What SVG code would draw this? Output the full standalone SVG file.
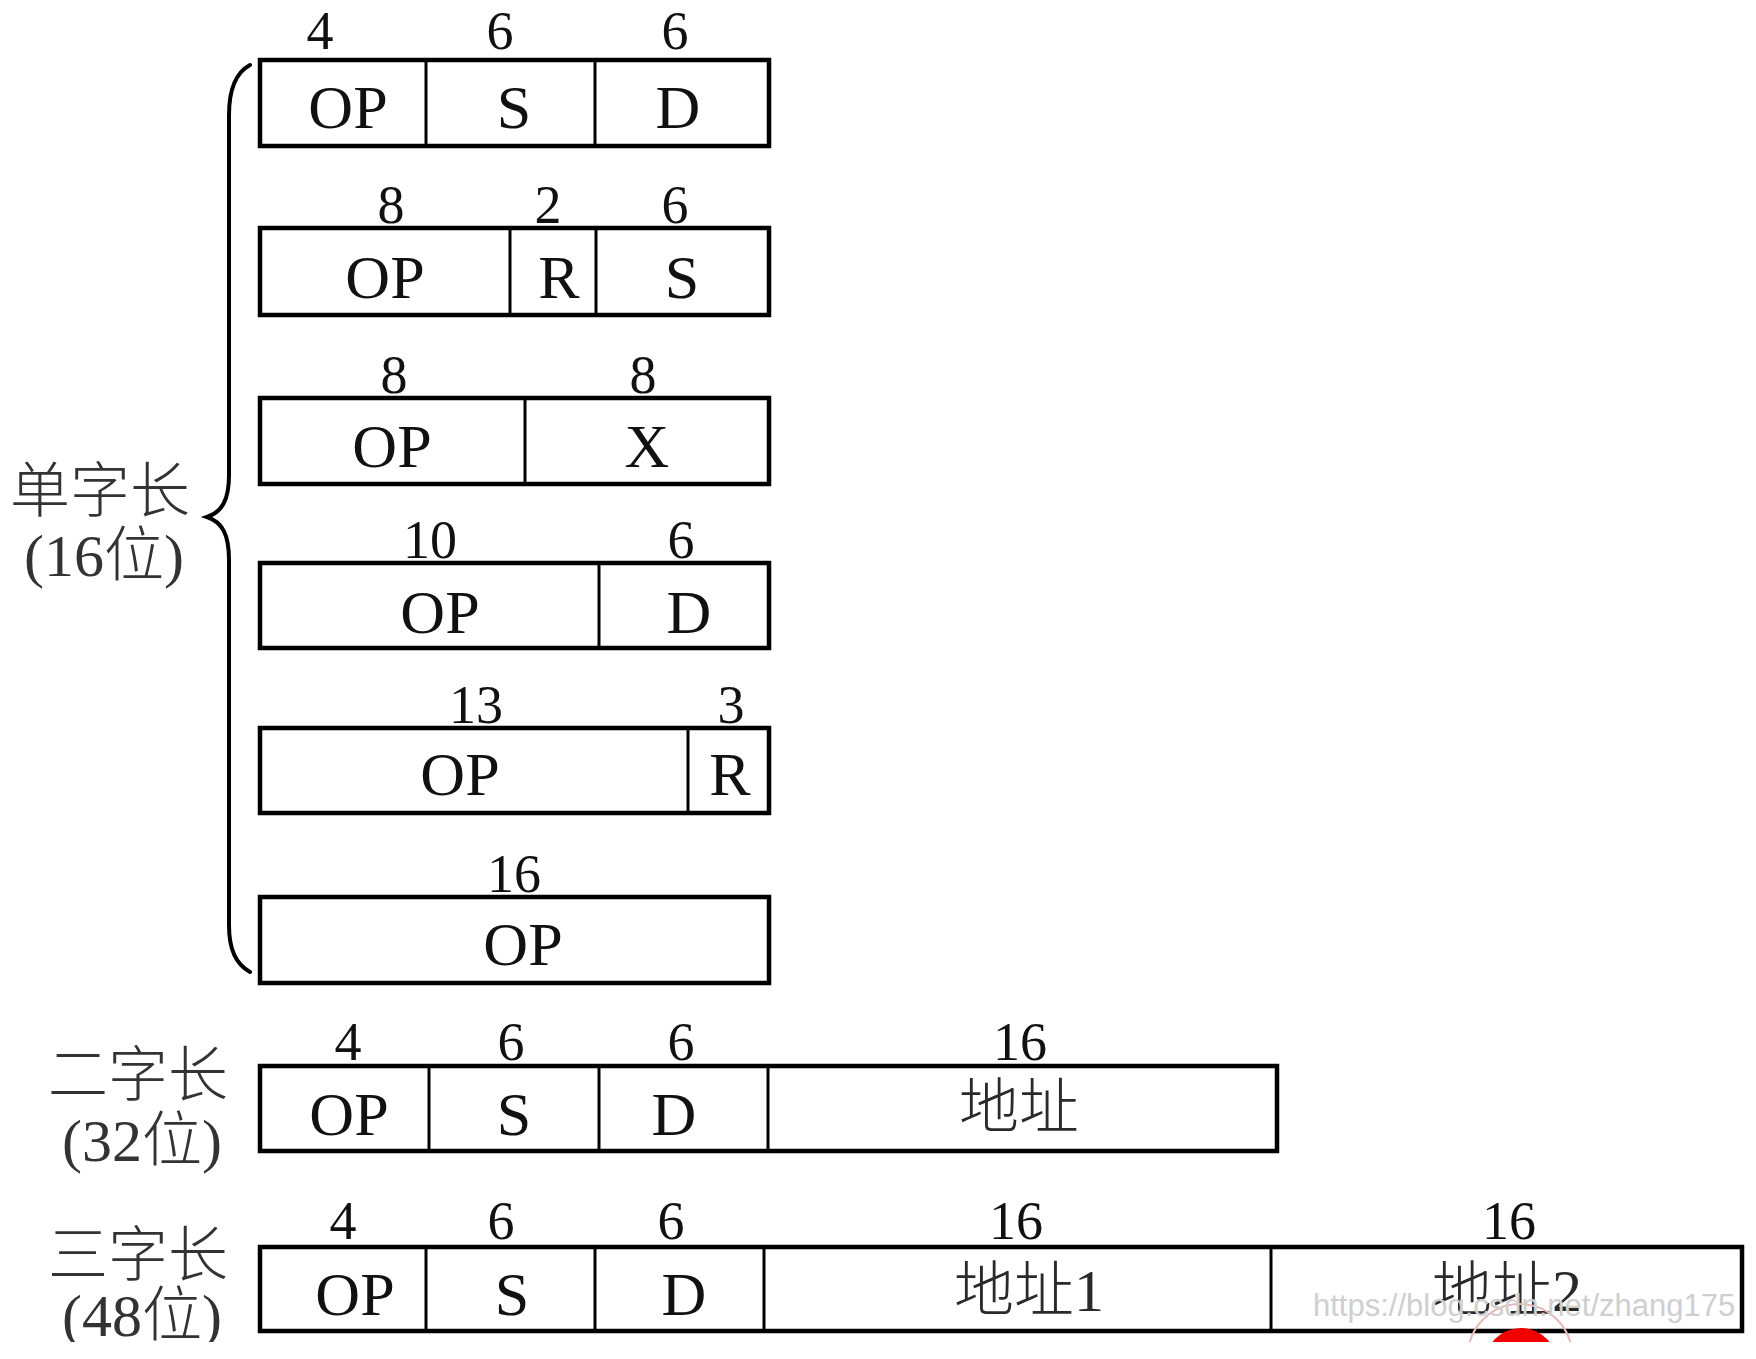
<svg xmlns="http://www.w3.org/2000/svg" width="1756" height="1359" viewBox="0 0 1756 1359">
<defs>
<clipPath id="cut"><rect x="0" y="0" width="1756" height="1342"/></clipPath>
</defs>
<style>
.box{fill:#fff;stroke:#000;stroke-width:4.5}
.dv{stroke:#000;stroke-width:3;fill:none}
.num{font-family:"Liberation Serif","Times New Roman",serif;font-size:54px;text-anchor:middle;fill:#111}
.lbl{font-family:"Liberation Serif","Noto Sans CJK SC",serif;font-size:62px;text-anchor:middle;fill:#111}
.cjk{font-family:"Liberation Serif","Noto Sans CJK SC",sans-serif;font-size:60px;font-weight:300;text-anchor:middle;fill:#2a2a2a}
.side{font-family:"Liberation Serif","Noto Sans CJK SC",sans-serif;font-size:60px;font-weight:300;text-anchor:middle;fill:#333}
.brace{fill:none;stroke:#000;stroke-width:4;stroke-linecap:round}
.wm{font-family:"Liberation Sans",Arial,sans-serif;font-size:31px;fill:#cfcfcf}
</style>
<rect x="0" y="0" width="1756" height="1359" fill="#fff"/>
<g clip-path="url(#cut)">

<g id="connectors">
<path class="brace" d="M250,65 C237,72 229,88 229,115 L229,475 C229,500 222,512 207,517 C222,522 229,534 229,560 L229,925 C229,950 236,964 250,972"/>
</g>

<g id="label-single">
<text class="side" x="100" y="512">单字长</text>
<text class="side" x="104" y="576">(16位)</text>
</g>
<g id="label-double">
<text class="side" x="138" y="1096">二字长</text>
<text class="side" x="142" y="1161">(32位)</text>
</g>
<g id="label-triple">
<text class="side" x="138" y="1276">三字长</text>
<text class="side" x="142" y="1336">(48位)</text>
</g>

<g id="row1">
<rect class="box" x="260" y="60" width="509" height="86"/>
<line class="dv" x1="426" y1="60" x2="426" y2="146"/>
<line class="dv" x1="595" y1="60" x2="595" y2="146"/>
<text class="num" x="320" y="49">4</text>
<text class="num" x="500" y="49">6</text>
<text class="num" x="675" y="49">6</text>
<text class="lbl" x="348" y="128">OP</text>
<text class="lbl" x="514" y="128">S</text>
<text class="lbl" x="678" y="128">D</text>
</g>

<g id="row2">
<rect class="box" x="260" y="228" width="509" height="87"/>
<line class="dv" x1="510" y1="228" x2="510" y2="315"/>
<line class="dv" x1="596" y1="228" x2="596" y2="315"/>
<text class="num" x="391" y="223">8</text>
<text class="num" x="548" y="223">2</text>
<text class="num" x="675" y="223">6</text>
<text class="lbl" x="385" y="298">OP</text>
<text class="lbl" x="559" y="298">R</text>
<text class="lbl" x="682" y="298">S</text>
</g>

<g id="row3">
<rect class="box" x="260" y="398" width="509" height="86"/>
<line class="dv" x1="525" y1="398" x2="525" y2="484"/>
<text class="num" x="394" y="393">8</text>
<text class="num" x="643" y="393">8</text>
<text class="lbl" x="392" y="467">OP</text>
<text class="lbl" x="647" y="467">X</text>
</g>

<g id="row4">
<rect class="box" x="260" y="563" width="509" height="85"/>
<line class="dv" x1="599" y1="563" x2="599" y2="648"/>
<text class="num" x="430" y="558">10</text>
<text class="num" x="681" y="558">6</text>
<text class="lbl" x="440" y="633">OP</text>
<text class="lbl" x="689" y="633">D</text>
</g>

<g id="row5">
<rect class="box" x="260" y="728" width="509" height="85"/>
<line class="dv" x1="688" y1="728" x2="688" y2="813"/>
<text class="num" x="476" y="723">13</text>
<text class="num" x="731" y="723">3</text>
<text class="lbl" x="460" y="795">OP</text>
<text class="lbl" x="730" y="795">R</text>
</g>

<g id="row6">
<rect class="box" x="260" y="897" width="509" height="86"/>
<text class="num" x="514" y="892">16</text>
<text class="lbl" x="523" y="965">OP</text>
</g>

<g id="row7">
<rect class="box" x="260" y="1066" width="1017" height="85"/>
<line class="dv" x1="429" y1="1066" x2="429" y2="1151"/>
<line class="dv" x1="599" y1="1066" x2="599" y2="1151"/>
<line class="dv" x1="768" y1="1066" x2="768" y2="1151"/>
<text class="num" x="348" y="1060">4</text>
<text class="num" x="511" y="1060">6</text>
<text class="num" x="681" y="1060">6</text>
<text class="num" x="1020" y="1060">16</text>
<text class="lbl" x="349" y="1135">OP</text>
<text class="lbl" x="514" y="1135">S</text>
<text class="lbl" x="674" y="1135">D</text>
<text class="cjk" x="1019" y="1128">地址</text>
</g>

<g id="row8">
<rect class="box" x="260" y="1247" width="1482" height="84"/>
<line class="dv" x1="426" y1="1247" x2="426" y2="1331"/>
<line class="dv" x1="595" y1="1247" x2="595" y2="1331"/>
<line class="dv" x1="764" y1="1247" x2="764" y2="1331"/>
<line class="dv" x1="1271" y1="1247" x2="1271" y2="1331"/>
<text class="num" x="343" y="1239">4</text>
<text class="num" x="501" y="1239">6</text>
<text class="num" x="671" y="1239">6</text>
<text class="num" x="1016" y="1239">16</text>
<text class="num" x="1509" y="1239">16</text>
<text class="lbl" x="355" y="1315">OP</text>
<text class="lbl" x="512" y="1315">S</text>
<text class="lbl" x="684" y="1315">D</text>
<text class="cjk" x="1029" y="1311">地址1</text>
<text class="cjk" x="1507" y="1311">地址2</text>
</g>

<g id="watermark">
<circle cx="1520" cy="1356" r="52" fill="none" stroke="#e9b9b9" stroke-width="2"/>
<circle cx="1521" cy="1364" r="36" fill="#f20000"/>
<text class="wm" x="1313" y="1316">https://blog.csdn.net/zhang175</text>
</g>

</g>
</svg>
